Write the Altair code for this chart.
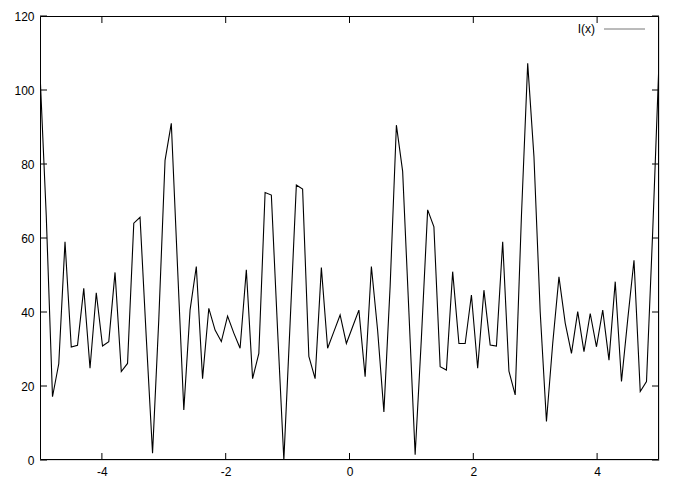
import altair as alt
import pandas as pd

# sampled curve I(x): 100 samples on [-5, 5]
n_samples = 100
xs = [round(-5 + i * 10 / (n_samples - 1), 5) for i in range(n_samples)]
values = [
    104.6, 66, 17.1, 26, 59, 30.5, 31, 46.4, 24.8, 45.2,
    30.8, 32, 50.7, 23.9, 26.1, 64, 65.6, 33, 1.8, 38,
    81, 91, 52, 13.5, 40.5, 52.3, 22, 41, 35.1, 32,
    38.9, 34.3, 30.2, 51.4, 22, 28.8, 72.3, 71.6, 35, 0,
    37, 74.3, 73.2, 28, 22, 52, 30.2, 34.7, 39.2, 31.5,
    36, 40.5, 22.5, 52.3, 35, 13, 47, 90.5, 78, 40,
    1.4, 33, 67.6, 63, 25.2, 24.3, 50.9, 31.5, 31.5, 44.6,
    24.8, 45.9, 31.1, 30.8, 59, 24, 17.6, 66, 107.2, 82,
    40, 10.4, 31.5, 49.5, 37, 28.8, 40.1, 29.3, 39.6, 30.6,
    40.5, 27, 48.2, 21.2, 38, 54, 18.5, 21.2, 62, 107.7,
]
x_ticks = [-4, -2, 0, 2, 4]
y_ticks = [0, 20, 40, 60, 80, 100, 120]
series_name = "I(x)"

W, H = 619, 444
FONT = "Liberation Sans"
TICK = 7

df = pd.DataFrame({"x": xs, "y": values})
xt = pd.DataFrame({"x": x_ticks})
yt = pd.DataFrame({"y": y_ticks})

xscale = alt.Scale(domain=[-5, 5], nice=False, zero=False)
yscale = alt.Scale(domain=[0, 120], nice=False, zero=False)
xaxis = alt.Axis(values=x_ticks, ticks=False, domain=False, grid=False,
                 labelPadding=6, labelFontSize=12, labelFont=FONT,
                 labelColor="black", title=None, labelExpr="'' + datum.value")
yaxis = alt.Axis(values=y_ticks, ticks=False, domain=False, grid=False,
                 labelPadding=6, labelFontSize=12, labelFont=FONT,
                 labelColor="black", title=None, labelExpr="'' + datum.value")
xenc = alt.X("x:Q", scale=xscale, axis=xaxis)
yenc = alt.Y("y:Q", scale=yscale, axis=yaxis)

line = alt.Chart(df).mark_line(color="black", strokeWidth=1.1, clip=True).encode(
    x=xenc, y=yenc
)

xt_bottom = alt.Chart(xt).mark_rule(color="black", strokeWidth=1).encode(
    x=xenc, y=alt.value(H), y2=alt.value(H - TICK)
)
xt_top = alt.Chart(xt).mark_rule(color="black", strokeWidth=1).encode(
    x=xenc, y=alt.value(0), y2=alt.value(TICK)
)
yt_left = alt.Chart(yt).mark_rule(color="black", strokeWidth=1).encode(
    y=yenc, x=alt.value(0), x2=alt.value(TICK)
)
yt_right = alt.Chart(yt).mark_rule(color="black", strokeWidth=1).encode(
    y=yenc, x=alt.value(W), x2=alt.value(W - TICK)
)

# plot frame
frame_df = pd.DataFrame({"side": ["frame"]})
frame = alt.Chart(frame_df).mark_rect(
    filled=False, stroke="black", strokeWidth=1, fill="transparent"
).encode(
    x=alt.value(0.5), x2=alt.value(W - 0.5), y=alt.value(0.5), y2=alt.value(H - 0.5)
)

leg = pd.DataFrame({"label": [series_name]})
leg_text = alt.Chart(leg).mark_text(
    align="right", baseline="middle", font=FONT, fontSize=12, color="black"
).encode(text="label:N", x=alt.value(555), y=alt.value(13))
leg_line = alt.Chart(leg).mark_rule(color="#777777", strokeWidth=1).encode(
    x=alt.value(564), x2=alt.value(605), y=alt.value(13)
)

chart = alt.layer(
    line, xt_bottom, xt_top, yt_left, yt_right, frame, leg_text, leg_line
).properties(
    width=W, height=H,
    autosize=alt.AutoSizeParams(type="none"),
    padding={"left": 32, "top": 8, "right": 10, "bottom": 30},
).configure_view(
    strokeWidth=0
).configure(background="white")

chart.save("out.html", embed_options={"renderer": "svg", "actions": False})
